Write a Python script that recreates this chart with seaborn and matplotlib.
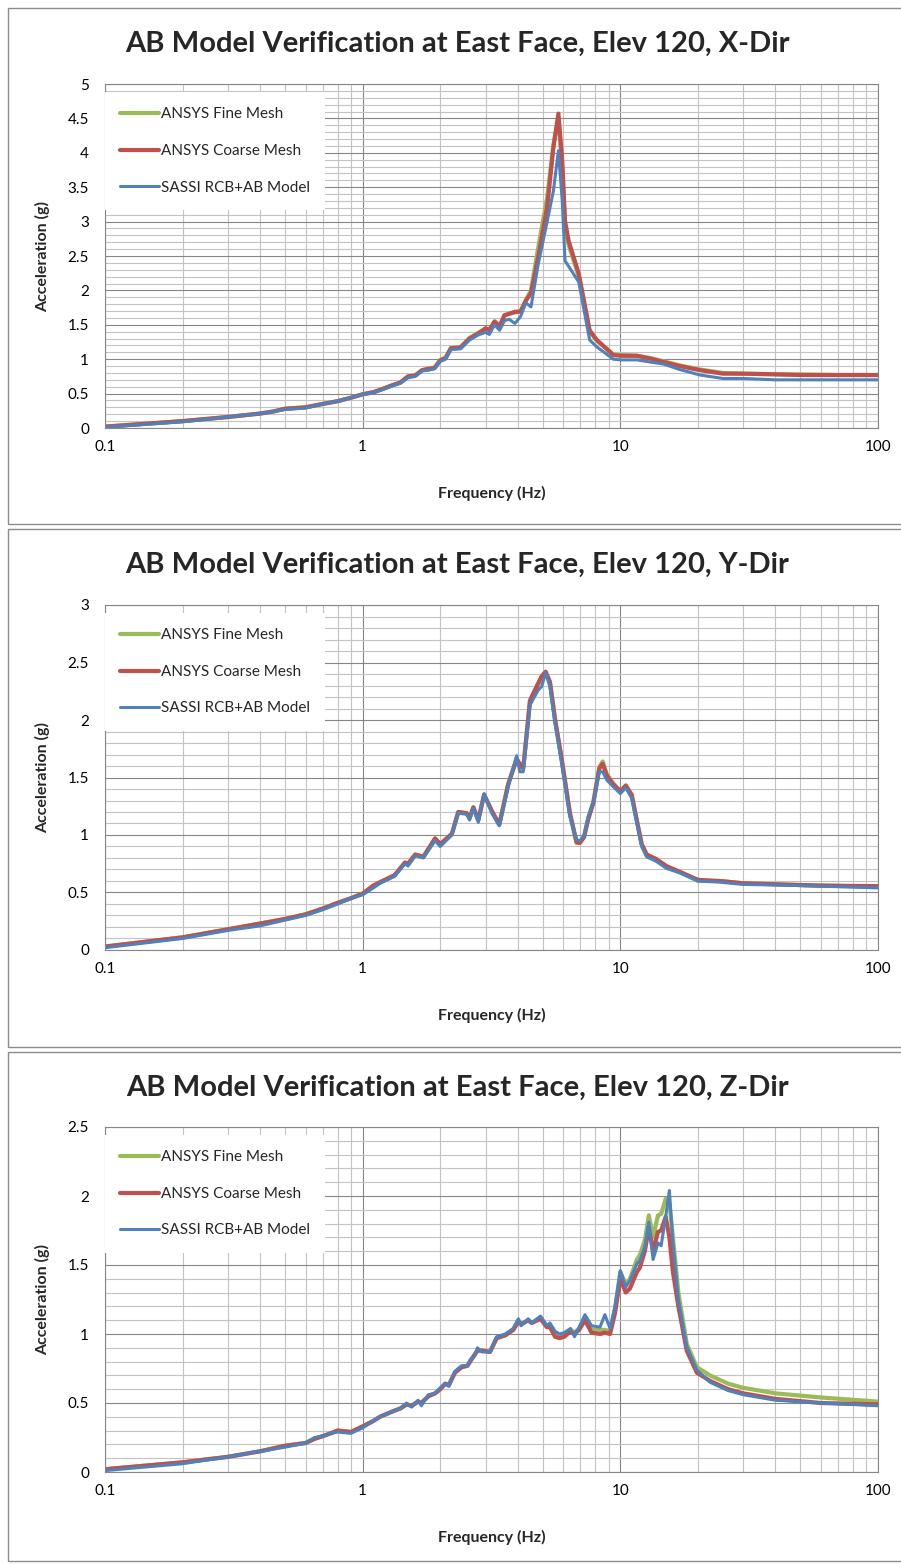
import matplotlib
matplotlib.use("Agg")
import matplotlib.pyplot as plt
import seaborn as sns
from matplotlib.ticker import LogLocator, MultipleLocator, FuncFormatter, NullFormatter
from matplotlib.patches import Rectangle

# ---------------------------------------------------------------- data
SERIES_NAMES = ["ANSYS Fine Mesh", "ANSYS Coarse Mesh", "SASSI RCB+AB Model"]

TITLES = [
    "AB Model Verification at East Face, Elev 120, X-Dir",
    "AB Model Verification at East Face, Elev 120, Y-Dir",
    "AB Model Verification at East Face, Elev 120, Z-Dir",
]
Y_MAX = [5.0, 3.0, 2.5]

X_TICKS = [0.1, 1, 10, 100]

# X direction
FREQ_X = [0.1, 0.2, 0.3, 0.4, 0.45, 0.5, 0.6, 0.7, 0.8, 0.9,
          1.0, 1.1, 1.2, 1.3, 1.4, 1.5, 1.6, 1.7, 1.8, 1.9,
          2.0, 2.1, 2.2, 2.4, 2.6, 2.8, 3.0, 3.1, 3.25, 3.4,
          3.55, 3.7, 3.9, 4.1, 4.3, 4.5, 4.8, 5.2, 5.5, 5.75,
          5.95, 6.1, 6.3, 6.9, 7.6, 8.1, 9.4, 10.0, 11.6, 13.0,
          14.7, 17.0, 20.4, 25.0, 30.0, 40.0, 50.0, 70.0, 100.0]
FINE_X = [0.02, 0.10, 0.16, 0.21, 0.24, 0.28, 0.30, 0.35, 0.39, 0.44,
          0.49, 0.52, 0.57, 0.62, 0.66, 0.75, 0.77, 0.84, 0.86, 0.88,
          0.99, 1.02, 1.16, 1.18, 1.31, 1.38, 1.44, 1.43, 1.54, 1.48,
          1.63, 1.66, 1.68, 1.70, 1.86, 2.00, 2.62, 3.35, 4.12, 4.50,
          3.78, 2.93, 2.66, 2.20, 1.40, 1.27, 1.07, 1.06, 1.05, 1.02,
          0.97, 0.91, 0.85, 0.80, 0.79, 0.78, 0.78, 0.77, 0.77]
COARSE_X = [0.02, 0.10, 0.16, 0.21, 0.24, 0.28, 0.30, 0.35, 0.39, 0.44,
            0.49, 0.52, 0.57, 0.62, 0.66, 0.75, 0.76, 0.84, 0.86, 0.87,
            0.98, 1.02, 1.16, 1.17, 1.30, 1.37, 1.45, 1.42, 1.55, 1.48,
            1.64, 1.66, 1.69, 1.69, 1.85, 1.96, 2.48, 3.21, 4.08, 4.57,
            3.88, 3.01, 2.72, 2.24, 1.42, 1.28, 1.06, 1.05, 1.05, 1.01,
            0.96, 0.90, 0.84, 0.79, 0.79, 0.78, 0.77, 0.77, 0.77]
SASSI_X = [0.01, 0.09, 0.16, 0.21, 0.24, 0.27, 0.29, 0.35, 0.39, 0.44,
           0.49, 0.51, 0.56, 0.61, 0.65, 0.73, 0.75, 0.83, 0.84, 0.86,
           0.97, 1.00, 1.14, 1.15, 1.28, 1.35, 1.39, 1.36, 1.50, 1.42,
           1.56, 1.58, 1.52, 1.62, 1.82, 1.76, 2.38, 3.00, 3.45, 4.03,
           3.30, 2.43, 2.35, 2.12, 1.28, 1.18, 1.00, 0.99, 0.99, 0.96,
           0.93, 0.85, 0.77, 0.72, 0.72, 0.70, 0.70, 0.70, 0.70]

# Y direction
FREQ_Y = [0.1, 0.2, 0.3, 0.4, 0.5, 0.6, 0.7, 0.8, 0.9, 1.0,
          1.1, 1.17, 1.33, 1.46, 1.5, 1.6, 1.72, 1.91, 2.0, 2.22,
          2.35, 2.53, 2.6, 2.69, 2.81, 2.96, 3.17, 3.39, 3.67, 3.96,
          4.07, 4.2, 4.46, 4.8, 4.95, 5.13, 5.33, 5.58, 5.92, 6.37,
          6.76, 6.95, 7.23, 7.51, 7.86, 8.29, 8.54, 8.85, 9.38, 10.0,
          10.5, 11.07, 11.6, 12.1, 12.65, 13.8, 15.1, 17.0, 20.05, 24.3,
          30.0, 41.7, 60.0, 100.0]
FINE_Y = [0.03, 0.11, 0.18, 0.23, 0.27, 0.31, 0.36, 0.41, 0.45, 0.49,
          0.56, 0.59, 0.65, 0.76, 0.75, 0.83, 0.81, 0.97, 0.92, 1.01,
          1.20, 1.19, 1.15, 1.24, 1.13, 1.35, 1.21, 1.09, 1.44, 1.67,
          1.60, 1.58, 2.16, 2.31, 2.36, 2.41, 2.33, 2.01, 1.66, 1.19,
          0.93, 0.93, 0.99, 1.15, 1.29, 1.59, 1.64, 1.53, 1.45, 1.38,
          1.43, 1.34, 1.12, 0.92, 0.83, 0.79, 0.72, 0.68, 0.60, 0.60,
          0.58, 0.57, 0.56, 0.55]
COARSE_Y = [0.03, 0.11, 0.18, 0.23, 0.27, 0.31, 0.36, 0.41, 0.45, 0.49,
            0.56, 0.59, 0.65, 0.76, 0.75, 0.83, 0.81, 0.97, 0.92, 1.01,
            1.20, 1.19, 1.15, 1.24, 1.13, 1.35, 1.21, 1.09, 1.44, 1.66,
            1.62, 1.58, 2.17, 2.32, 2.38, 2.42, 2.33, 2.00, 1.66, 1.19,
            0.94, 0.93, 0.98, 1.14, 1.28, 1.58, 1.62, 1.52, 1.44, 1.38,
            1.43, 1.35, 1.12, 0.92, 0.83, 0.79, 0.73, 0.68, 0.61, 0.60,
            0.58, 0.57, 0.56, 0.555]
SASSI_Y = [0.02, 0.10, 0.17, 0.21, 0.26, 0.30, 0.35, 0.40, 0.45, 0.48,
           0.54, 0.58, 0.64, 0.75, 0.73, 0.82, 0.80, 0.95, 0.90, 1.00,
           1.19, 1.18, 1.13, 1.23, 1.11, 1.36, 1.19, 1.08, 1.42, 1.69,
           1.55, 1.55, 2.13, 2.26, 2.29, 2.41, 2.29, 1.97, 1.62, 1.16,
           0.96, 0.95, 0.99, 1.16, 1.28, 1.55, 1.55, 1.48, 1.42, 1.36,
           1.41, 1.32, 1.10, 0.90, 0.81, 0.77, 0.71, 0.67, 0.60, 0.59,
           0.57, 0.565, 0.555, 0.54]

# Z direction
FREQ_Z = [0.1, 0.2, 0.3, 0.4, 0.5, 0.6, 0.65, 0.7, 0.75, 0.8,
          0.9, 1.0, 1.1, 1.167, 1.31, 1.40, 1.48, 1.55, 1.64, 1.69,
          1.80, 1.91, 2.0, 2.09, 2.16, 2.28, 2.42, 2.55, 2.63, 2.72,
          2.79, 2.9, 3.12, 3.31, 3.57, 3.84, 4.02, 4.12, 4.39, 4.53,
          4.90, 5.18, 5.33, 5.58, 5.81, 6.06, 6.41, 6.64, 6.92, 7.29,
          7.73, 8.34, 8.71, 9.12, 9.53, 10.0, 10.5, 10.9, 11.6, 11.9,
          12.45, 12.9, 13.4, 14.0, 14.4, 15.0, 15.5, 16.0, 16.8, 18.1,
          19.8, 22.3, 26.2, 30.0, 40.0, 60.0, 100.0]
FINE_Z = [0.02, 0.07, 0.11, 0.15, 0.19, 0.21, 0.24, 0.26, 0.28, 0.30,
          0.29, 0.33, 0.37, 0.40, 0.44, 0.46, 0.49, 0.48, 0.51, 0.50,
          0.55, 0.57, 0.60, 0.64, 0.63, 0.72, 0.76, 0.77, 0.81, 0.85,
          0.88, 0.88, 0.87, 0.97, 0.99, 1.03, 1.10, 1.07, 1.10, 1.08,
          1.12, 1.06, 1.06, 1.00, 0.99, 1.00, 1.03, 1.01, 1.04, 1.12,
          1.03, 1.03, 1.03, 1.02, 1.18, 1.45, 1.36, 1.40, 1.54, 1.57,
          1.68, 1.86, 1.70, 1.86, 1.87, 1.98, 1.95, 1.70, 1.30, 0.93,
          0.76, 0.70, 0.64, 0.61, 0.57, 0.54, 0.51]
COARSE_Z = [0.02, 0.07, 0.11, 0.15, 0.19, 0.21, 0.24, 0.26, 0.28, 0.30,
            0.29, 0.33, 0.37, 0.40, 0.44, 0.46, 0.49, 0.48, 0.51, 0.50,
            0.55, 0.57, 0.60, 0.64, 0.63, 0.72, 0.76, 0.77, 0.81, 0.85,
            0.88, 0.88, 0.87, 0.97, 0.99, 1.03, 1.09, 1.07, 1.10, 1.08,
            1.11, 1.05, 1.05, 0.98, 0.97, 0.98, 1.02, 1.00, 1.03, 1.10,
            1.01, 1.00, 1.01, 1.00, 1.15, 1.40, 1.30, 1.33, 1.45, 1.48,
            1.60, 1.77, 1.60, 1.74, 1.75, 1.85, 1.70, 1.45, 1.20, 0.88,
            0.72, 0.66, 0.60, 0.57, 0.53, 0.50, 0.49]
SASSI_Z = [0.01, 0.06, 0.11, 0.15, 0.18, 0.21, 0.25, 0.26, 0.28, 0.29,
           0.28, 0.32, 0.37, 0.40, 0.44, 0.46, 0.50, 0.47, 0.52, 0.48,
           0.56, 0.57, 0.61, 0.64, 0.62, 0.73, 0.77, 0.77, 0.82, 0.84,
           0.90, 0.87, 0.87, 0.98, 1.00, 1.04, 1.11, 1.06, 1.11, 1.08,
           1.13, 1.06, 1.08, 1.02, 1.00, 1.01, 1.04, 0.98, 1.05, 1.14,
           1.06, 1.05, 1.14, 1.04, 1.20, 1.46, 1.34, 1.39, 1.51, 1.53,
           1.63, 1.81, 1.54, 1.66, 1.64, 1.85, 2.04, 1.66, 1.25, 0.91,
           0.74, 0.65, 0.59, 0.56, 0.52, 0.50, 0.48]

PANELS = [
    (FREQ_X, [FINE_X, COARSE_X, SASSI_X]),
    (FREQ_Y, [FINE_Y, COARSE_Y, SASSI_Y]),
    (FREQ_Z, [FINE_Z, COARSE_Z, SASSI_Z]),
]

# ---------------------------------------------------------------- style
COLORS = ["#9BBB59", "#C0504D", "#4F81BD"]
WIDTHS = [3.0, 3.0, 2.2]
MAJOR_GRID = "#868686"
MINOR_GRID = "#c3c3c3"
BORDER = "#8c8c8c"

sns.set_style("white")
plt.rcParams["font.family"] = ["Lato", "DejaVu Sans"]

W, H = 901, 1564
fig = plt.figure(figsize=(W / 100, H / 100), dpi=100)


def fxp(px):
    return px / W


def fyp(py):
    return 1 - py / H


PLOT_LEFT, PLOT_RIGHT = 105, 878
BORDER_TOP = [8, 529, 1052]
BORDER_BOTTOM = [524, 1047, 1561]
PLOT_TOP = [84, 605, 1127]
PLOT_BOTTOM = [428, 950, 1472]

for i, (freq, series) in enumerate(PANELS):
    # chart frame
    fig.add_artist(Rectangle((fxp(8), fyp(BORDER_BOTTOM[i])),
                             fxp(960) - fxp(8),
                             fyp(BORDER_TOP[i]) - fyp(BORDER_BOTTOM[i]),
                             transform=fig.transFigure, fill=False,
                             edgecolor=BORDER, linewidth=1.0))

    top, bot = PLOT_TOP[i], PLOT_BOTTOM[i]
    ax = fig.add_axes([fxp(PLOT_LEFT), fyp(bot),
                       fxp(PLOT_RIGHT) - fxp(PLOT_LEFT), fyp(top) - fyp(bot)])
    ax.set_facecolor("white")

    for name, vals, col, lw in zip(SERIES_NAMES, series, COLORS, WIDTHS):
        sns.lineplot(x=freq, y=vals, ax=ax, color=col, linewidth=lw,
                     label=name, estimator=None, sort=False)

    ax.set_xscale("log")
    ax.set_xlim(0.1, 100)
    ax.set_ylim(0, Y_MAX[i])

    ax.xaxis.set_major_locator(LogLocator(base=10, numticks=10))
    ax.xaxis.set_minor_locator(LogLocator(base=10, subs=range(2, 10), numticks=20))
    ax.xaxis.set_major_formatter(FuncFormatter(lambda v, _: f"{v:g}"))
    ax.xaxis.set_minor_formatter(NullFormatter())
    ax.set_xticks(X_TICKS)
    ax.yaxis.set_major_locator(MultipleLocator(0.5))
    ax.yaxis.set_minor_locator(MultipleLocator(0.1))
    ax.yaxis.set_major_formatter(FuncFormatter(lambda v, _: f"{v:g}"))

    ax.set_axisbelow(True)
    ax.grid(which="major", color=MAJOR_GRID, linewidth=0.8)
    ax.grid(which="minor", color=MINOR_GRID, linewidth=0.8)

    for side in ["left", "bottom", "top", "right"]:
        ax.spines[side].set_visible(True)
        ax.spines[side].set_color(MAJOR_GRID)
        ax.spines[side].set_linewidth(0.8)

    ax.tick_params(which="major", direction="out", length=4.5, width=0.8,
                   color=MAJOR_GRID, labelsize=11, labelcolor="black")
    ax.tick_params(axis="x", which="major", pad=4)
    ax.tick_params(axis="y", which="major", pad=7)
    ax.tick_params(which="minor", length=0)
    ax.tick_params(top=False, right=False, which="both")

    ax.set_xlabel("Frequency (Hz)", fontsize=11.5, fontweight="bold", va="center")
    ax.xaxis.set_label_coords(0.5, -65 / (bot - top))
    ax.set_ylabel("Acceleration (g)", fontsize=11.5, fontweight="bold", va="center")
    ax.yaxis.set_label_coords(-(PLOT_LEFT - 43) / (PLOT_RIGHT - PLOT_LEFT), 0.5)

    leg = ax.legend(loc="upper left", bbox_to_anchor=(0.0, 1 - 8 / (bot - top)),
                    frameon=True, fancybox=False, framealpha=1.0,
                    facecolor="white", edgecolor="none", fontsize=11,
                    handlelength=2.55, handletextpad=0.1, labelspacing=1.48,
                    borderpad=1.0, borderaxespad=0.0)
    leg.get_frame().set_linewidth(0)

    fig.text(fxp(457), fyp(BORDER_TOP[i] + 36), TITLES[i], ha="center",
             va="center", fontsize=21, fontweight="bold")

fig.savefig("out.png", dpi=100, facecolor="white")
